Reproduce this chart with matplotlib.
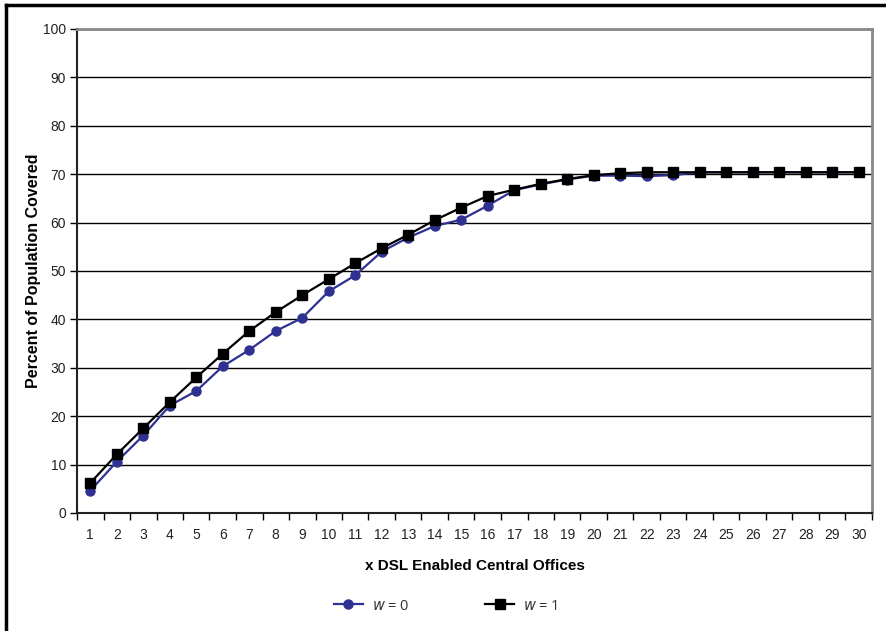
import matplotlib
matplotlib.use("Agg")
import matplotlib.pyplot as plt
from matplotlib.lines import Line2D
from matplotlib.font_manager import fontManager

names = {f.name for f in fontManager.ttflist}
tick_font = "Liberation Sans Narrow" if "Liberation Sans Narrow" in names else "Liberation Sans"

x = list(range(1, 31))
w0 = [4.6, 10.6, 16.0, 22.2, 25.2, 30.3, 33.7, 37.6, 40.3, 45.8,
      49.1, 54.0, 56.9, 59.3, 60.6, 63.5, 66.7, 67.9, 68.9, 69.7,
      69.7, 69.6, 69.8, 70.4, 70.4, 70.4, 70.4, 70.4, 70.4, 70.4]
w1 = [6.2, 12.1, 17.5, 22.9, 28.0, 32.9, 37.6, 41.5, 45.0, 48.3,
      51.6, 54.7, 57.5, 60.5, 63.1, 65.5, 66.8, 68.0, 69.0, 69.8,
      70.2, 70.4, 70.4, 70.4, 70.4, 70.4, 70.4, 70.4, 70.4, 70.4]
yticks = list(range(0, 101, 10))

W, H = 887, 631
fig = plt.figure(figsize=(W / 100, H / 100), dpi=100)
ax = fig.add_axes([77 / W, 1 - 513 / H, (872 - 77) / W, (513 - 29) / H])

for v in yticks[1:]:
    ax.axhline(v, color="black", lw=1.0, zorder=1)

navy = "#2e3192"
ax.plot(x, w0, color=navy, lw=1.6, marker="o", ms=6.5, zorder=3)
ax.plot(x, w1, color="black", lw=1.6, marker="s", ms=6.5, zorder=4)

ax.set_xlim(0.5, 30.5)
ax.set_ylim(0, 100)
ax.set_yticks(yticks)
ax.set_xticks(x)
ax.set_xticks([i + 0.5 for i in range(0, 31)], minor=True)
ax.tick_params(axis="x", which="major", length=0, pad=11)
ax.tick_params(axis="x", which="minor", length=5, width=1, direction="out")
ax.tick_params(axis="y", length=5, width=1, direction="out", pad=3)
for lab in ax.get_xticklabels() + ax.get_yticklabels():
    lab.set_fontfamily(tick_font)
    lab.set_fontsize(10)
    lab.set_color("#222222")

for s in ["left", "bottom"]:
    ax.spines[s].set_color("#222222")
    ax.spines[s].set_linewidth(1.5)
ax.spines["top"].set_color("#888888")
ax.spines["right"].set_color("#888888")
ax.spines["top"].set_linewidth(2)
ax.spines["right"].set_linewidth(2)

ax.set_xlabel("x DSL Enabled Central Offices", fontfamily="Liberation Sans",
              fontsize=11, fontweight="bold", labelpad=12)
ax.set_ylabel("Percent of Population Covered", fontfamily="Liberation Sans",
              fontsize=11.5, fontweight="bold", labelpad=1)

handles = [
    Line2D([], [], color=navy, lw=1.6, marker="o", ms=6.5),
    Line2D([], [], color="black", lw=1.6, marker="s", ms=6.5),
]
fig.legend(handles, [r"$w$ = 0", r"$w$ = 1"], loc="center",
           bbox_to_anchor=(446 / W, 1 - 606 / H), ncol=2, frameon=False,
           handlelength=2.0, columnspacing=5.2, handletextpad=0.6,
           prop={"family": "Open Sans", "size": 10.5}, labelcolor="#333333")

# outer border (left and top visible)
fig.add_artist(Line2D([6 / W, 6 / W], [0, 1 - 5 / H], transform=fig.transFigure,
                      color="black", lw=2.5))
fig.add_artist(Line2D([6 / W, 1], [1 - 5 / H, 1 - 5 / H], transform=fig.transFigure,
                      color="black", lw=2.5))

fig.savefig("out.png", dpi=100)
